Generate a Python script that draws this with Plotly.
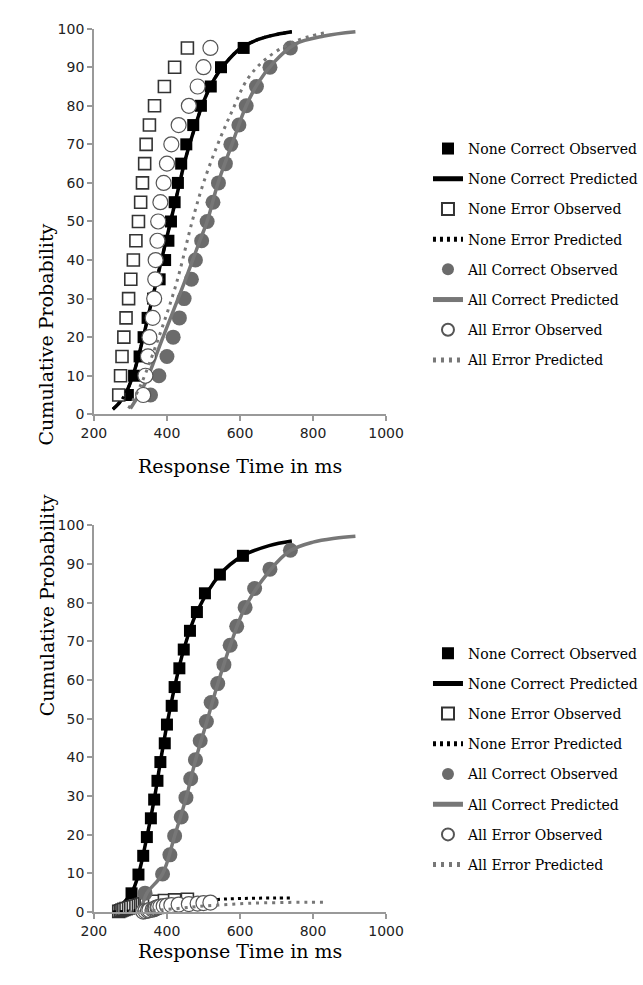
import plotly.graph_objects as go

# ---------------- data: top panel (conditional CDFs) ----------------
pct = [5, 10, 15, 20, 25, 30, 35, 40, 45, 50, 55, 60, 65, 70, 75, 80, 85, 90, 95]

top_nc_obs_x = [293, 310, 325, 336, 347, 362, 380, 395, 404, 411, 421, 430, 439, 453, 472, 493, 520, 548, 610]
top_ne_obs_x = [268, 273, 277, 282, 288, 295, 301, 308, 315, 322, 328, 333, 339, 343, 352, 366, 393, 421, 456]
top_ac_obs_x = [355, 378, 400, 417, 434, 447, 467, 478, 495, 510, 526, 541, 560, 575, 597, 617, 645, 682, 738]
top_ae_obs_x = [335, 341, 348, 352, 361, 365, 368, 369, 374, 376, 382, 391, 400, 412, 432, 460, 484, 500, 519]

top_nc_pred_x = [252, 270, 290, 310, 330, 350, 370, 390, 410, 430, 450, 475, 500, 530, 560, 600, 650, 700, 742]
top_nc_pred_y = [1.3, 3, 6, 11, 18, 26, 34, 42, 50, 58, 66, 74, 81, 87, 91, 94.8, 97.2, 98.5, 99.2]
top_ne_pred_x = [252, 270, 290, 310, 330, 350, 370, 390, 410, 430, 450, 475, 500, 530, 560, 600, 650, 700, 742]
top_ne_pred_y = [1.3, 3, 6, 11, 18, 26, 34, 42, 50, 58, 66, 74, 81, 87, 91, 94.8, 97.2, 98.5, 99.2]
top_ac_pred_x = [300, 340, 385, 447, 490, 510, 540, 578, 617, 650, 690, 751, 830, 916]
top_ac_pred_y = [1.5, 8, 19, 34, 45, 50, 60, 70, 80, 86, 91, 96, 98.1, 99.2]
top_ae_pred_x = [295, 330, 374, 426, 469, 500, 539, 580, 621, 669, 734, 790, 838]
top_ae_pred_y = [1.5, 8, 19, 34, 50, 60, 70, 79, 87, 92, 96, 98, 99]

# ---------------- data: bottom panel (defective CDFs) ----------------
bot_nc_obs_x = [303, 322, 335, 345, 356, 365, 374, 382, 394, 400, 413, 421, 434, 446, 463, 482, 504, 545, 608]
bot_nc_obs_y = [4.85, 9.7, 14.55, 19.4, 24.25, 29.1, 33.95, 38.8, 43.65, 48.5, 53.35, 58.2, 63.05, 67.9, 72.75, 77.6, 82.45, 87.3, 92.15]
bot_ne_obs_x = [268, 273, 277, 282, 288, 295, 301, 308, 315, 322, 328, 333, 339, 343, 352, 366, 393, 421, 456]
bot_ne_obs_y = [0.18, 0.35, 0.53, 0.7, 0.88, 1.05, 1.23, 1.4, 1.58, 1.75, 1.93, 2.1, 2.28, 2.45, 2.63, 2.8, 2.98, 3.15, 3.33]
bot_ac_obs_x = [340, 388, 408, 421, 439, 452, 465, 478, 491, 508, 521, 539, 556, 573, 591, 614, 640, 682, 738]
bot_ac_obs_y = [4.9, 9.85, 14.8, 19.7, 24.6, 29.6, 34.5, 39.4, 44.3, 49.3, 54.2, 59.1, 64.0, 69.0, 73.9, 78.8, 83.7, 88.7, 93.6]
bot_ae_obs_x = [335, 341, 348, 352, 361, 365, 368, 369, 374, 376, 382, 391, 400, 412, 432, 460, 484, 500, 519]
bot_ae_obs_y = [0.13, 0.26, 0.39, 0.52, 0.65, 0.78, 0.91, 1.04, 1.17, 1.3, 1.43, 1.56, 1.69, 1.82, 1.95, 2.08, 2.21, 2.34, 2.47]

bot_nc_pred_x = [256, 280, 303, 322, 345, 365, 382, 400, 421, 446, 482, 545, 608, 680, 742]
bot_nc_pred_y = [0.2, 2.3, 4.9, 9.7, 19.4, 29.1, 38.8, 48.5, 58.2, 67.9, 77.6, 87.3, 92.2, 94.8, 96]
bot_ne_pred_x = [252, 270, 290, 310, 330, 350, 370, 390, 410, 430, 450, 475, 500, 530, 560, 600, 650, 700, 742]
bot_ne_pred_y = [0.05, 0.11, 0.22, 0.4, 0.66, 0.95, 1.25, 1.55, 1.85, 2.15, 2.45, 2.75, 3.0, 3.2, 3.37, 3.5, 3.6, 3.64, 3.67]
bot_ac_pred_x = [315, 330, 345, 388, 421, 452, 478, 508, 539, 573, 614, 682, 738, 800, 860, 916]
bot_ac_pred_y = [0.2, 1.5, 4.9, 9.9, 19.7, 29.4, 39.2, 48.9, 59, 68.9, 78.8, 88.4, 93.5, 95.7, 96.7, 97.2]
bot_ae_pred_x = [295, 330, 374, 426, 469, 500, 539, 580, 621, 669, 734, 790, 838]
bot_ae_pred_y = [0.04, 0.21, 0.49, 0.88, 1.3, 1.56, 1.82, 2.05, 2.26, 2.39, 2.5, 2.55, 2.57]

names = ["None Correct Observed", "None Correct Predicted", "None Error Observed", "None Error Predicted",
         "All Correct Observed", "All Correct Predicted", "All Error Observed", "All Error Predicted"]

GRAY_M = "#6b6b6b"
GRAY_L = "#777777"
SERIF = "DejaVu Serif"
SANS = "DejaVu Sans"

fig = go.Figure()


def add_panel(xa, ya, leg, data):
    (nco_x, nco_y, ncp_x, ncp_y, neo_x, neo_y, nep_x, nep_y,
     aco_x, aco_y, acp_x, acp_y, aeo_x, aeo_y, aep_x, aep_y) = data
    common = dict(xaxis=xa, yaxis=ya, legend=leg, cliponaxis=False)
    fig.add_trace(go.Scatter(x=nco_x, y=nco_y, mode="markers", name=names[0], legendgroup=leg + "0",
                             marker=dict(symbol="square", size=12, color="black"), **common))
    fig.add_trace(go.Scatter(x=ncp_x, y=ncp_y, mode="lines", name=names[1], legendgroup=leg + "1",
                             line=dict(color="black", width=3.5, shape="spline"), **common))
    fig.add_trace(go.Scatter(x=neo_x, y=neo_y, mode="markers", name=names[2], legendgroup=leg + "2",
                             marker=dict(symbol="square", size=12, color="white",
                                         line=dict(color="#333333", width=1.6)), **common))
    fig.add_trace(go.Scatter(x=nep_x, y=nep_y, mode="lines", name=names[3], legendgroup=leg + "3",
                             line=dict(color="black", width=3, dash="3px,4px", shape="spline"), **common))
    fig.add_trace(go.Scatter(x=aco_x, y=aco_y, mode="markers", name=names[4], legendgroup=leg + "4",
                             marker=dict(symbol="circle", size=15, color=GRAY_M), **common))
    fig.add_trace(go.Scatter(x=acp_x, y=acp_y, mode="lines", name=names[5], legendgroup=leg + "5",
                             line=dict(color=GRAY_L, width=3.5, shape="spline"), **common))
    fig.add_trace(go.Scatter(x=aeo_x, y=aeo_y, mode="markers", name=names[6], legendgroup=leg + "6",
                             marker=dict(symbol="circle", size=15, color="white",
                                         line=dict(color="#555555", width=1.2)), **common))
    fig.add_trace(go.Scatter(x=aep_x, y=aep_y, mode="lines", name=names[7], legendgroup=leg + "7",
                             line=dict(color=GRAY_L, width=3, dash="3px,5px", shape="spline"), **common))


add_panel("x", "y", "legend",
          (top_nc_obs_x, pct, top_nc_pred_x, top_nc_pred_y, top_ne_obs_x, pct, top_ne_pred_x, top_ne_pred_y,
           top_ac_obs_x, pct, top_ac_pred_x, top_ac_pred_y, top_ae_obs_x, pct, top_ae_pred_x, top_ae_pred_y))
add_panel("x2", "y2", "legend2",
          (bot_nc_obs_x, bot_nc_obs_y, bot_nc_pred_x, bot_nc_pred_y, bot_ne_obs_x, bot_ne_obs_y,
           bot_ne_pred_x, bot_ne_pred_y, bot_ac_obs_x, bot_ac_obs_y, bot_ac_pred_x, bot_ac_pred_y,
           bot_ae_obs_x, bot_ae_obs_y, bot_ae_pred_x, bot_ae_pred_y))

xdom = [85 / 643, 392 / 643]
ydom_top = [1 - 413 / 985, 1 - 21 / 985]
ydom_bot = [1 - 919 / 985, 1 - 526 / 985]

axis_common = dict(showline=True, linecolor="#999999", linewidth=1.5, ticks="outside", ticklen=5,
                   tickcolor="#999999", tickwidth=1.5, showgrid=False, zeroline=False,
                   tickfont=dict(family=SANS, size=14, color="#222222"))
xa = dict(range=[200, 1000], dtick=200, tick0=200, domain=xdom, **axis_common)
ya = dict(range=[0, 100], dtick=10, tick0=0, **axis_common)

legend_common = dict(font=dict(family=SERIF, size=14, color="black"), bgcolor="rgba(0,0,0,0)",
                     traceorder="grouped", tracegroupgap=9, itemsizing="constant",
                     xanchor="left", yanchor="top", itemclick=False, itemdoubleclick=False)

fig.update_layout(
    width=643, height=985,
    margin=dict(l=0, r=0, t=0, b=0),
    paper_bgcolor="white", plot_bgcolor="white",
    showlegend=True,
    xaxis=dict(anchor="y", **xa),
    yaxis=dict(anchor="x", domain=ydom_top, **ya),
    xaxis2=dict(anchor="y2", **xa),
    yaxis2=dict(anchor="x2", domain=ydom_bot, **ya),
    legend=dict(x=436 / 643, y=1 - 127 / 985, **legend_common),
    legend2=dict(x=436 / 643, y=1 - 640 / 985, **legend_common),
    annotations=[
        dict(text="Response Time in ms", x=238 / 643, y=1 - 466 / 985, xref="paper", yref="paper",
             showarrow=False, font=dict(family=SERIF, size=19, color="black")),
        dict(text="Response Time in ms", x=238 / 643, y=1 - 972 / 985, xref="paper", yref="paper",
             showarrow=False, font=dict(family=SERIF, size=19, color="black")),
        dict(text="Cumulative Probability", x=22 / 643, y=1 - 217 / 985, xref="paper", yref="paper",
             showarrow=False, textangle=-90, font=dict(family=SERIF, size=19, color="black")),
        dict(text="Cumulative Probability", x=22 / 643, y=1 - 722 / 985, xref="paper", yref="paper",
             showarrow=False, textangle=-90, font=dict(family=SERIF, size=19, color="black")),
    ],
)

fig.write_html("out.html")
